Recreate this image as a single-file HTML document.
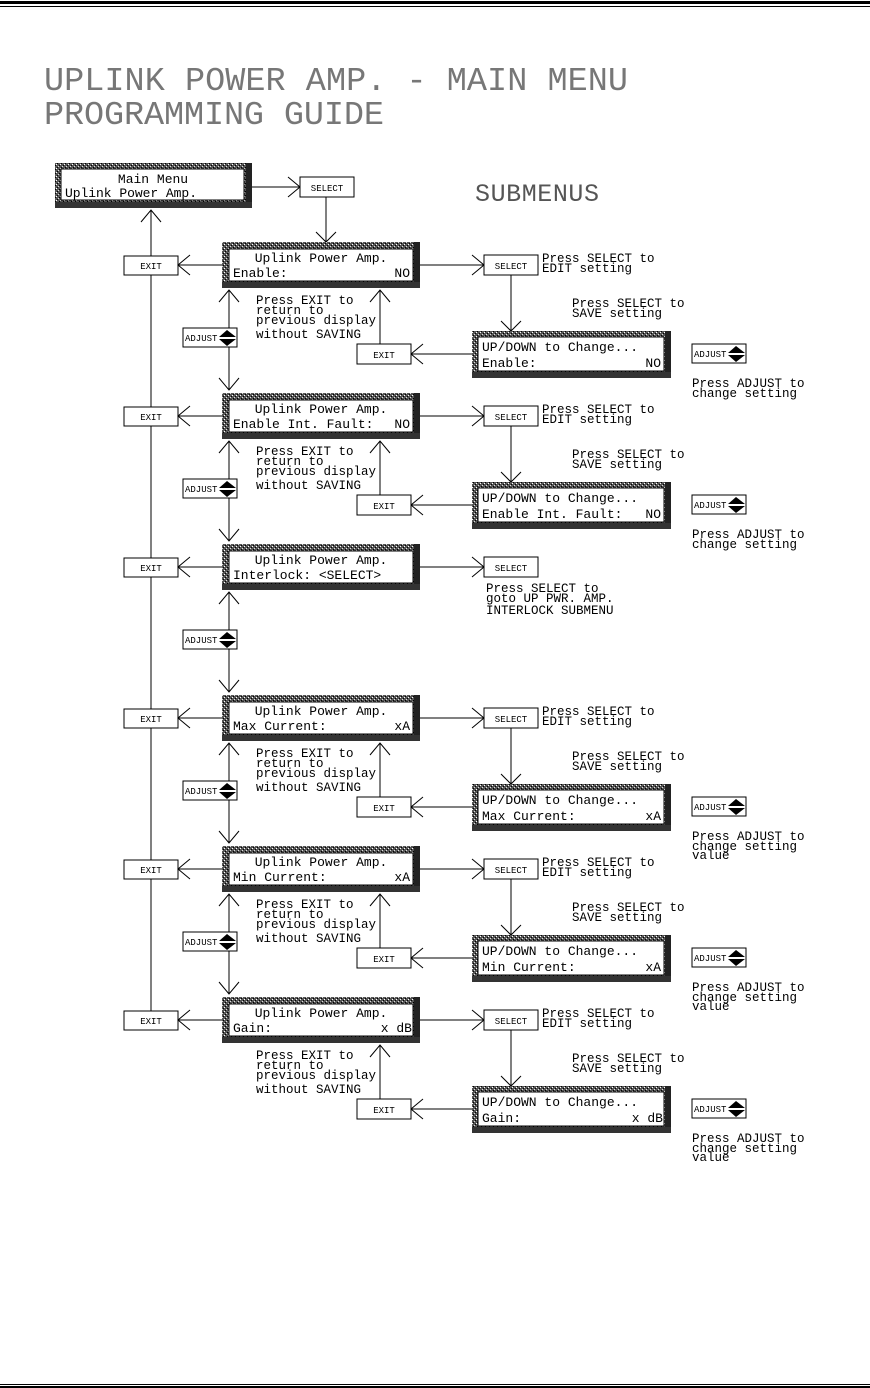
<!DOCTYPE html>
<html><head><meta charset="utf-8"><style>
html,body{margin:0;padding:0;background:#fff;}
svg{display:block;}
text{font-family:"Liberation Mono",monospace;fill:#000;}
.t{font-size:13px;}
.s{font-size:9px;}
.n{font-size:12.5px;}
</style></head><body>
<svg width="870" height="1388" viewBox="0 0 870 1388" xmlns="http://www.w3.org/2000/svg">
<defs>
<pattern id="st" width="4" height="4" patternUnits="userSpaceOnUse">
<rect width="4" height="4" fill="#555"/>
<rect x="0" y="0" width="1" height="1" fill="#fff"/><rect x="2" y="2" width="1" height="1" fill="#ddd"/>
<rect x="1" y="3" width="1" height="1" fill="#000"/><rect x="3" y="1" width="1" height="1" fill="#000"/>
</pattern>
<g id="adj">
<rect x="0" y="0" width="54" height="19" fill="#fff" stroke="#000"/>
<path d="M36 9 L44 2 L53 9 Z M36 11 L53 11 L44 18 Z" fill="#000"/>
</g>
</defs>
<rect x="0" y="1" width="870" height="3" fill="#000"/>
<rect x="0" y="6" width="870" height="1" fill="#000"/>
<rect x="0" y="1384" width="870" height="1" fill="#000"/>
<rect x="0" y="1386" width="870" height="2" fill="#000"/>

<text x="44" y="90" style="font-size:33.5px;fill:#777" textLength="584">UPLINK POWER AMP. - MAIN MENU</text>
<text x="44" y="124" style="font-size:33.5px;fill:#777" textLength="340">PROGRAMMING GUIDE</text>
<text x="475" y="201" style="font-size:25px;fill:#555" textLength="124">SUBMENUS</text>

<rect x="55" y="163" width="197" height="45" fill="url(#st)"/>
<rect x="246" y="163" width="6" height="45" fill="#222"/>
<rect x="55" y="202" width="197" height="6" fill="#333"/>
<rect x="61" y="169" width="183" height="31" fill="#fff" stroke="#000"/>
<text class="t" x="153" y="183" text-anchor="middle">Main Menu</text>
<text class="t" x="65" y="197" textLength="132">Uplink Power Amp.</text>
<path d="M252 187 H300 M288 177 L300 187 L288 197" fill="none" stroke="#000"/>
<rect x="300" y="177" width="54" height="20" fill="#fff" stroke="#000"/>
<text class="s" x="327" y="191" text-anchor="middle">SELECT</text>
<path d="M326 197 V242 M316 232 L326 242 L336 232" fill="none" stroke="#000"/>
<path d="M151 1012 V210 M141 222 L151 210 L161 222" fill="none" stroke="#000"/>

<g transform="translate(0,0)">
<rect x="222" y="242" width="198" height="46" fill="url(#st)"/><rect x="414" y="242" width="6" height="46" fill="#222"/><rect x="222" y="282" width="198" height="6" fill="#333"/>
<rect x="229" y="249" width="184" height="32" fill="#fff" stroke="#000"/>
<text class="t" x="321" y="262" text-anchor="middle">Uplink Power Amp.</text>
<text class="t" x="233" y="277">Enable:</text><text class="t" x="410" y="277" text-anchor="end">NO</text>
<rect x="124" y="256" width="54" height="19" fill="#fff" stroke="#000"/><text class="s" x="151" y="269" text-anchor="middle">EXIT</text>
<path d="M222 265 H178 M190 255 L178 265 L190 275" fill="none" stroke="#000"/>
<path d="M420 265 H484 M472 255 L484 265 L472 275" fill="none" stroke="#000"/>
<rect x="484" y="255" width="54" height="20" fill="#fff" stroke="#000"/><text class="s" x="511" y="269" text-anchor="middle">SELECT</text>
<text class="n" x="542" y="262">Press SELECT to</text><text class="n" x="542" y="272">EDIT setting</text>
<path d="M511 275 V331 M501 321 L511 331 L521 321" fill="none" stroke="#000"/>
<text class="n" x="572" y="307">Press SELECT to</text><text class="n" x="572" y="317">SAVE setting</text>
<rect x="472" y="331" width="199" height="47" fill="url(#st)"/><rect x="665" y="331" width="6" height="47" fill="#222"/><rect x="472" y="372" width="199" height="6" fill="#333"/>
<rect x="478" y="337" width="186" height="34" fill="#fff" stroke="#000"/>
<text class="t" x="482" y="351">UP/DOWN to Change...</text>
<text class="t" x="482" y="367">Enable:</text><text class="t" x="661" y="367" text-anchor="end">NO</text>
<path d="M472 354 H411 M423 344 L411 354 L423 364" fill="none" stroke="#000"/>
<rect x="357" y="344" width="54" height="20" fill="#fff" stroke="#000"/><text class="s" x="384" y="358" text-anchor="middle">EXIT</text>
<path d="M380 344 V290 M370 302 L380 290 L390 302" fill="none" stroke="#000"/>
<text class="n" x="256" y="304">Press EXIT to</text><text class="n" x="256" y="314">return to</text><text class="n" x="256" y="324">previous display</text><text class="n" x="256" y="338">without SAVING</text>
<use href="#adj" x="692" y="344"/><text class="s" x="694" y="357">ADJUST</text>
<text class="n" x="692" y="387">Press ADJUST to</text><text class="n" x="692" y="397">change setting</text>
<path d="M229 290 V390 M219 302 L229 290 L239 302 M219 378 L229 390 L239 378" fill="none" stroke="#000"/>
<use href="#adj" x="183" y="328"/><text class="s" x="185" y="341">ADJUST</text>
</g>

<g transform="translate(0,151)">
<rect x="222" y="242" width="198" height="46" fill="url(#st)"/><rect x="414" y="242" width="6" height="46" fill="#222"/><rect x="222" y="282" width="198" height="6" fill="#333"/>
<rect x="229" y="249" width="184" height="32" fill="#fff" stroke="#000"/>
<text class="t" x="321" y="262" text-anchor="middle">Uplink Power Amp.</text>
<text class="t" x="233" y="277">Enable Int. Fault:</text><text class="t" x="410" y="277" text-anchor="end">NO</text>
<rect x="124" y="256" width="54" height="19" fill="#fff" stroke="#000"/><text class="s" x="151" y="269" text-anchor="middle">EXIT</text>
<path d="M222 265 H178 M190 255 L178 265 L190 275" fill="none" stroke="#000"/>
<path d="M420 265 H484 M472 255 L484 265 L472 275" fill="none" stroke="#000"/>
<rect x="484" y="255" width="54" height="20" fill="#fff" stroke="#000"/><text class="s" x="511" y="269" text-anchor="middle">SELECT</text>
<text class="n" x="542" y="262">Press SELECT to</text><text class="n" x="542" y="272">EDIT setting</text>
<path d="M511 275 V331 M501 321 L511 331 L521 321" fill="none" stroke="#000"/>
<text class="n" x="572" y="307">Press SELECT to</text><text class="n" x="572" y="317">SAVE setting</text>
<rect x="472" y="331" width="199" height="47" fill="url(#st)"/><rect x="665" y="331" width="6" height="47" fill="#222"/><rect x="472" y="372" width="199" height="6" fill="#333"/>
<rect x="478" y="337" width="186" height="34" fill="#fff" stroke="#000"/>
<text class="t" x="482" y="351">UP/DOWN to Change...</text>
<text class="t" x="482" y="367">Enable Int. Fault:</text><text class="t" x="661" y="367" text-anchor="end">NO</text>
<path d="M472 354 H411 M423 344 L411 354 L423 364" fill="none" stroke="#000"/>
<rect x="357" y="344" width="54" height="20" fill="#fff" stroke="#000"/><text class="s" x="384" y="358" text-anchor="middle">EXIT</text>
<path d="M380 344 V290 M370 302 L380 290 L390 302" fill="none" stroke="#000"/>
<text class="n" x="256" y="304">Press EXIT to</text><text class="n" x="256" y="314">return to</text><text class="n" x="256" y="324">previous display</text><text class="n" x="256" y="338">without SAVING</text>
<use href="#adj" x="692" y="344"/><text class="s" x="694" y="357">ADJUST</text>
<text class="n" x="692" y="387">Press ADJUST to</text><text class="n" x="692" y="397">change setting</text>
<path d="M229 290 V390 M219 302 L229 290 L239 302 M219 378 L229 390 L239 378" fill="none" stroke="#000"/>
<use href="#adj" x="183" y="328"/><text class="s" x="185" y="341">ADJUST</text>
</g>

<g transform="translate(0,302)">
<rect x="222" y="242" width="198" height="46" fill="url(#st)"/><rect x="414" y="242" width="6" height="46" fill="#222"/><rect x="222" y="282" width="198" height="6" fill="#333"/>
<rect x="229" y="249" width="184" height="32" fill="#fff" stroke="#000"/>
<text class="t" x="321" y="262" text-anchor="middle">Uplink Power Amp.</text>
<text class="t" x="233" y="277">Interlock: &lt;SELECT&gt;</text>
<rect x="124" y="256" width="54" height="19" fill="#fff" stroke="#000"/><text class="s" x="151" y="269" text-anchor="middle">EXIT</text>
<path d="M222 265 H178 M190 255 L178 265 L190 275" fill="none" stroke="#000"/>
<path d="M420 265 H484 M472 255 L484 265 L472 275" fill="none" stroke="#000"/>
<rect x="484" y="255" width="54" height="20" fill="#fff" stroke="#000"/><text class="s" x="511" y="269" text-anchor="middle">SELECT</text>
<text class="n" x="486" y="290">Press SELECT to</text><text class="n" x="486" y="300">goto UP PWR. AMP.</text><text class="n" x="486" y="312">INTERLOCK SUBMENU</text>
<path d="M229 290 V390 M219 302 L229 290 L239 302 M219 378 L229 390 L239 378" fill="none" stroke="#000"/>
<use href="#adj" x="183" y="328"/><text class="s" x="185" y="341">ADJUST</text>
</g>

<g transform="translate(0,453)">
<rect x="222" y="242" width="198" height="46" fill="url(#st)"/><rect x="414" y="242" width="6" height="46" fill="#222"/><rect x="222" y="282" width="198" height="6" fill="#333"/>
<rect x="229" y="249" width="184" height="32" fill="#fff" stroke="#000"/>
<text class="t" x="321" y="262" text-anchor="middle">Uplink Power Amp.</text>
<text class="t" x="233" y="277">Max Current:</text><text class="t" x="410" y="277" text-anchor="end">xA</text>
<rect x="124" y="256" width="54" height="19" fill="#fff" stroke="#000"/><text class="s" x="151" y="269" text-anchor="middle">EXIT</text>
<path d="M222 265 H178 M190 255 L178 265 L190 275" fill="none" stroke="#000"/>
<path d="M420 265 H484 M472 255 L484 265 L472 275" fill="none" stroke="#000"/>
<rect x="484" y="255" width="54" height="20" fill="#fff" stroke="#000"/><text class="s" x="511" y="269" text-anchor="middle">SELECT</text>
<text class="n" x="542" y="262">Press SELECT to</text><text class="n" x="542" y="272">EDIT setting</text>
<path d="M511 275 V331 M501 321 L511 331 L521 321" fill="none" stroke="#000"/>
<text class="n" x="572" y="307">Press SELECT to</text><text class="n" x="572" y="317">SAVE setting</text>
<rect x="472" y="331" width="199" height="47" fill="url(#st)"/><rect x="665" y="331" width="6" height="47" fill="#222"/><rect x="472" y="372" width="199" height="6" fill="#333"/>
<rect x="478" y="337" width="186" height="34" fill="#fff" stroke="#000"/>
<text class="t" x="482" y="351">UP/DOWN to Change...</text>
<text class="t" x="482" y="367">Max Current:</text><text class="t" x="661" y="367" text-anchor="end">xA</text>
<path d="M472 354 H411 M423 344 L411 354 L423 364" fill="none" stroke="#000"/>
<rect x="357" y="344" width="54" height="20" fill="#fff" stroke="#000"/><text class="s" x="384" y="358" text-anchor="middle">EXIT</text>
<path d="M380 344 V290 M370 302 L380 290 L390 302" fill="none" stroke="#000"/>
<text class="n" x="256" y="304">Press EXIT to</text><text class="n" x="256" y="314">return to</text><text class="n" x="256" y="324">previous display</text><text class="n" x="256" y="338">without SAVING</text>
<use href="#adj" x="692" y="344"/><text class="s" x="694" y="357">ADJUST</text>
<text class="n" x="692" y="387">Press ADJUST to</text><text class="n" x="692" y="397">change setting</text><text class="n" x="692" y="406">value</text>
<path d="M229 290 V390 M219 302 L229 290 L239 302 M219 378 L229 390 L239 378" fill="none" stroke="#000"/>
<use href="#adj" x="183" y="328"/><text class="s" x="185" y="341">ADJUST</text>
</g>

<g transform="translate(0,604)">
<rect x="222" y="242" width="198" height="46" fill="url(#st)"/><rect x="414" y="242" width="6" height="46" fill="#222"/><rect x="222" y="282" width="198" height="6" fill="#333"/>
<rect x="229" y="249" width="184" height="32" fill="#fff" stroke="#000"/>
<text class="t" x="321" y="262" text-anchor="middle">Uplink Power Amp.</text>
<text class="t" x="233" y="277">Min Current:</text><text class="t" x="410" y="277" text-anchor="end">xA</text>
<rect x="124" y="256" width="54" height="19" fill="#fff" stroke="#000"/><text class="s" x="151" y="269" text-anchor="middle">EXIT</text>
<path d="M222 265 H178 M190 255 L178 265 L190 275" fill="none" stroke="#000"/>
<path d="M420 265 H484 M472 255 L484 265 L472 275" fill="none" stroke="#000"/>
<rect x="484" y="255" width="54" height="20" fill="#fff" stroke="#000"/><text class="s" x="511" y="269" text-anchor="middle">SELECT</text>
<text class="n" x="542" y="262">Press SELECT to</text><text class="n" x="542" y="272">EDIT setting</text>
<path d="M511 275 V331 M501 321 L511 331 L521 321" fill="none" stroke="#000"/>
<text class="n" x="572" y="307">Press SELECT to</text><text class="n" x="572" y="317">SAVE setting</text>
<rect x="472" y="331" width="199" height="47" fill="url(#st)"/><rect x="665" y="331" width="6" height="47" fill="#222"/><rect x="472" y="372" width="199" height="6" fill="#333"/>
<rect x="478" y="337" width="186" height="34" fill="#fff" stroke="#000"/>
<text class="t" x="482" y="351">UP/DOWN to Change...</text>
<text class="t" x="482" y="367">Min Current:</text><text class="t" x="661" y="367" text-anchor="end">xA</text>
<path d="M472 354 H411 M423 344 L411 354 L423 364" fill="none" stroke="#000"/>
<rect x="357" y="344" width="54" height="20" fill="#fff" stroke="#000"/><text class="s" x="384" y="358" text-anchor="middle">EXIT</text>
<path d="M380 344 V290 M370 302 L380 290 L390 302" fill="none" stroke="#000"/>
<text class="n" x="256" y="304">Press EXIT to</text><text class="n" x="256" y="314">return to</text><text class="n" x="256" y="324">previous display</text><text class="n" x="256" y="338">without SAVING</text>
<use href="#adj" x="692" y="344"/><text class="s" x="694" y="357">ADJUST</text>
<text class="n" x="692" y="387">Press ADJUST to</text><text class="n" x="692" y="397">change setting</text><text class="n" x="692" y="406">value</text>
<path d="M229 290 V390 M219 302 L229 290 L239 302 M219 378 L229 390 L239 378" fill="none" stroke="#000"/>
<use href="#adj" x="183" y="328"/><text class="s" x="185" y="341">ADJUST</text>
</g>

<g transform="translate(0,755)">
<rect x="222" y="242" width="198" height="46" fill="url(#st)"/><rect x="414" y="242" width="6" height="46" fill="#222"/><rect x="222" y="282" width="198" height="6" fill="#333"/>
<rect x="229" y="249" width="184" height="32" fill="#fff" stroke="#000"/>
<text class="t" x="321" y="262" text-anchor="middle">Uplink Power Amp.</text>
<text class="t" x="233" y="277">Gain:</text><text class="t" x="412" y="277" text-anchor="end">x dB</text>
<rect x="124" y="256" width="54" height="19" fill="#fff" stroke="#000"/><text class="s" x="151" y="269" text-anchor="middle">EXIT</text>
<path d="M222 265 H178 M190 255 L178 265 L190 275" fill="none" stroke="#000"/>
<path d="M420 265 H484 M472 255 L484 265 L472 275" fill="none" stroke="#000"/>
<rect x="484" y="255" width="54" height="20" fill="#fff" stroke="#000"/><text class="s" x="511" y="269" text-anchor="middle">SELECT</text>
<text class="n" x="542" y="262">Press SELECT to</text><text class="n" x="542" y="272">EDIT setting</text>
<path d="M511 275 V331 M501 321 L511 331 L521 321" fill="none" stroke="#000"/>
<text class="n" x="572" y="307">Press SELECT to</text><text class="n" x="572" y="317">SAVE setting</text>
<rect x="472" y="331" width="199" height="47" fill="url(#st)"/><rect x="665" y="331" width="6" height="47" fill="#222"/><rect x="472" y="372" width="199" height="6" fill="#333"/>
<rect x="478" y="337" width="186" height="34" fill="#fff" stroke="#000"/>
<text class="t" x="482" y="351">UP/DOWN to Change...</text>
<text class="t" x="482" y="367">Gain:</text><text class="t" x="663" y="367" text-anchor="end">x dB</text>
<path d="M472 354 H411 M423 344 L411 354 L423 364" fill="none" stroke="#000"/>
<rect x="357" y="344" width="54" height="20" fill="#fff" stroke="#000"/><text class="s" x="384" y="358" text-anchor="middle">EXIT</text>
<path d="M380 344 V290 M370 302 L380 290 L390 302" fill="none" stroke="#000"/>
<text class="n" x="256" y="304">Press EXIT to</text><text class="n" x="256" y="314">return to</text><text class="n" x="256" y="324">previous display</text><text class="n" x="256" y="338">without SAVING</text>
<use href="#adj" x="692" y="344"/><text class="s" x="694" y="357">ADJUST</text>
<text class="n" x="692" y="387">Press ADJUST to</text><text class="n" x="692" y="397">change setting</text><text class="n" x="692" y="406">value</text>
</g>
</svg>
</body></html>
